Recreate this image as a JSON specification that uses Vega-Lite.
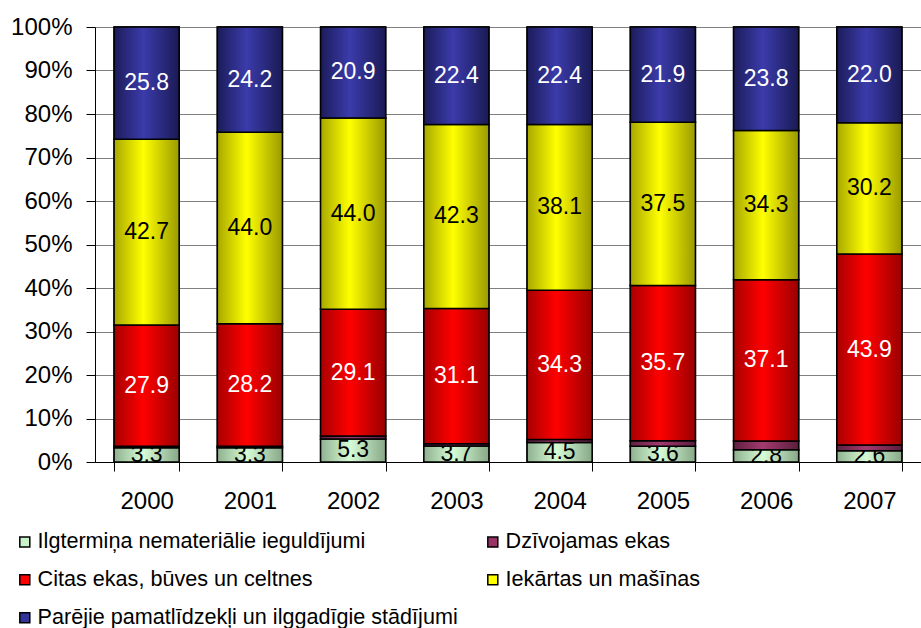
{
  "$schema": "https://vega.github.io/schema/vega-lite/v6.json",
  "autosize": {"type": "none"},
  "padding": {"left": 95, "top": 27, "right": 0, "bottom": 166},
  "width": 826,
  "height": 435,
  "config": {
    "font": "Liberation Sans",
    "view": {"stroke": null}
  },
  "data": {
    "values": [
      {"year": "2000", "series": "Ilgtermiņa nemateriālie ieguldījumi", "o": 1, "value": 3.3},
      {"year": "2000", "series": "Dzīvojamas ekas", "o": 2, "value": 0.3},
      {"year": "2000", "series": "Citas ekas, būves un celtnes", "o": 3, "value": 27.9},
      {"year": "2000", "series": "Iekārtas un mašīnas", "o": 4, "value": 42.7},
      {"year": "2000", "series": "Parējie pamatlīdzekļi un ilggadīgie stādījumi", "o": 5, "value": 25.8},
      {"year": "2001", "series": "Ilgtermiņa nemateriālie ieguldījumi", "o": 1, "value": 3.3},
      {"year": "2001", "series": "Dzīvojamas ekas", "o": 2, "value": 0.3},
      {"year": "2001", "series": "Citas ekas, būves un celtnes", "o": 3, "value": 28.2},
      {"year": "2001", "series": "Iekārtas un mašīnas", "o": 4, "value": 44.0},
      {"year": "2001", "series": "Parējie pamatlīdzekļi un ilggadīgie stādījumi", "o": 5, "value": 24.2},
      {"year": "2002", "series": "Ilgtermiņa nemateriālie ieguldījumi", "o": 1, "value": 5.3},
      {"year": "2002", "series": "Dzīvojamas ekas", "o": 2, "value": 0.7},
      {"year": "2002", "series": "Citas ekas, būves un celtnes", "o": 3, "value": 29.1},
      {"year": "2002", "series": "Iekārtas un mašīnas", "o": 4, "value": 44.0},
      {"year": "2002", "series": "Parējie pamatlīdzekļi un ilggadīgie stādījumi", "o": 5, "value": 20.9},
      {"year": "2003", "series": "Ilgtermiņa nemateriālie ieguldījumi", "o": 1, "value": 3.7},
      {"year": "2003", "series": "Dzīvojamas ekas", "o": 2, "value": 0.5},
      {"year": "2003", "series": "Citas ekas, būves un celtnes", "o": 3, "value": 31.1},
      {"year": "2003", "series": "Iekārtas un mašīnas", "o": 4, "value": 42.3},
      {"year": "2003", "series": "Parējie pamatlīdzekļi un ilggadīgie stādījumi", "o": 5, "value": 22.4},
      {"year": "2004", "series": "Ilgtermiņa nemateriālie ieguldījumi", "o": 1, "value": 4.5},
      {"year": "2004", "series": "Dzīvojamas ekas", "o": 2, "value": 0.7},
      {"year": "2004", "series": "Citas ekas, būves un celtnes", "o": 3, "value": 34.3},
      {"year": "2004", "series": "Iekārtas un mašīnas", "o": 4, "value": 38.1},
      {"year": "2004", "series": "Parējie pamatlīdzekļi un ilggadīgie stādījumi", "o": 5, "value": 22.4},
      {"year": "2005", "series": "Ilgtermiņa nemateriālie ieguldījumi", "o": 1, "value": 3.6},
      {"year": "2005", "series": "Dzīvojamas ekas", "o": 2, "value": 1.3},
      {"year": "2005", "series": "Citas ekas, būves un celtnes", "o": 3, "value": 35.7},
      {"year": "2005", "series": "Iekārtas un mašīnas", "o": 4, "value": 37.5},
      {"year": "2005", "series": "Parējie pamatlīdzekļi un ilggadīgie stādījumi", "o": 5, "value": 21.9},
      {"year": "2006", "series": "Ilgtermiņa nemateriālie ieguldījumi", "o": 1, "value": 2.8},
      {"year": "2006", "series": "Dzīvojamas ekas", "o": 2, "value": 2.0},
      {"year": "2006", "series": "Citas ekas, būves un celtnes", "o": 3, "value": 37.1},
      {"year": "2006", "series": "Iekārtas un mašīnas", "o": 4, "value": 34.3},
      {"year": "2006", "series": "Parējie pamatlīdzekļi un ilggadīgie stādījumi", "o": 5, "value": 23.8},
      {"year": "2007", "series": "Ilgtermiņa nemateriālie ieguldījumi", "o": 1, "value": 2.6},
      {"year": "2007", "series": "Dzīvojamas ekas", "o": 2, "value": 1.3},
      {"year": "2007", "series": "Citas ekas, būves un celtnes", "o": 3, "value": 43.9},
      {"year": "2007", "series": "Iekārtas un mašīnas", "o": 4, "value": 30.2},
      {"year": "2007", "series": "Parējie pamatlīdzekļi un ilggadīgie stādījumi", "o": 5, "value": 22.0}
    ]
  },
  "transform": [
    {"stack": "value", "groupby": ["year"], "sort": [{"field": "o", "order": "ascending"}], "as": ["y0", "y1"]},
    {"calculate": "(datum.y0 + datum.y1) / 2", "as": "ymid"}
  ],
  "encoding": {
    "x": {
      "field": "year", "type": "nominal", "title": null,
      "scale": {"paddingInner": 0.37, "paddingOuter": 0.185},
      "axis": {
        "labelAngle": 0, "labelFontSize": 24, "labelColor": "black", "labelPadding": 18,
        "tickBand": "extent", "tickSize": 9, "tickColor": "black", "domainColor": "black",
        "domainWidth": 1, "tickWidth": 1
      }
    }
  },
  "layer": [
    {
      "mark": {"type": "bar", "stroke": "black", "strokeWidth": 1.5},
      "encoding": {
        "y": {
          "field": "y0", "type": "quantitative", "title": null,
          "scale": {"domain": [0, 100], "nice": false},
          "axis": {
            "values": [0, 10, 20, 30, 40, 50, 60, 70, 80, 90, 100],
            "labelExpr": "datum.value + '%'", "labelFontSize": 24, "labelColor": "black",
            "labelPadding": 14, "tickSize": 9, "tickColor": "black", "domainColor": "black",
            "grid": true, "gridColor": "#808080", "gridWidth": 1, "gridOpacity": 1
          }
        },
        "y2": {"field": "y1"},
        "color": {
          "field": "series", "type": "nominal",
          "sort": ["Ilgtermiņa nemateriālie ieguldījumi", "Dzīvojamas ekas", "Citas ekas, būves un celtnes", "Iekārtas un mašīnas", "Parējie pamatlīdzekļi un ilggadīgie stādījumi"],
          "scale": {
            "domain": ["Ilgtermiņa nemateriālie ieguldījumi", "Dzīvojamas ekas", "Citas ekas, būves un celtnes", "Iekārtas un mašīnas", "Parējie pamatlīdzekļi un ilggadīgie stādījumi"],
            "range": ["#c8f2c8", "#993366", "#ff0000", "#ffff00", "#333399"]
          },
          "legend": {
            "title": null, "orient": "none", "legendX": -81, "legendY": 504,
            "direction": "horizontal", "columns": 2, "columnPadding": 24, "rowPadding": 15,
            "symbolType": "square", "symbolSize": 100, "symbolStrokeColor": "black", "symbolStrokeWidth": 1.5,
            "labelFontSize": 21.6, "labelColor": "black", "labelLimit": 600, "labelOffset": 2
          }
        }
      }
    },
    {
      "transform": [{"filter": "datum.o == 1"}],
      "mark": {"type": "bar", "stroke": "black", "strokeWidth": 1.5,
        "fill": {"gradient": "linear", "x1": 0, "x2": 1, "y1": 0, "y2": 0, "stops": [
          {"offset": 0, "color": "#8fb08f"}, {"offset": 0.45, "color": "#d6fcd6"}, {"offset": 1, "color": "#88a888"}]}},
      "encoding": {
        "y": {"field": "y0", "type": "quantitative"},
        "y2": {"field": "y1"}
      }
    },
    {
      "transform": [{"filter": "datum.o == 1"}],
      "mark": {"type": "text", "fontSize": 23, "baseline": "middle", "align": "center", "color": "black"},
      "encoding": {
        "y": {"field": "ymid", "type": "quantitative"},
        "text": {"field": "value", "type": "quantitative", "format": ".1f"}
      }
    },
    {
      "transform": [{"filter": "datum.o == 2"}],
      "mark": {"type": "bar", "stroke": "black", "strokeWidth": 1.5,
        "fill": {"gradient": "linear", "x1": 0, "x2": 1, "y1": 0, "y2": 0, "stops": [
          {"offset": 0, "color": "#5e2040"}, {"offset": 0.45, "color": "#a33a70"}, {"offset": 1, "color": "#5a1e3c"}]}},
      "encoding": {
        "y": {"field": "y0", "type": "quantitative"},
        "y2": {"field": "y1"}
      }
    },
    {
      "transform": [{"filter": "datum.o == 3"}],
      "mark": {"type": "bar", "stroke": "black", "strokeWidth": 1.5,
        "fill": {"gradient": "linear", "x1": 0, "x2": 1, "y1": 0, "y2": 0, "stops": [
          {"offset": 0, "color": "#a80000"}, {"offset": 0.45, "color": "#ff0000"}, {"offset": 1, "color": "#9a0000"}]}},
      "encoding": {
        "y": {"field": "y0", "type": "quantitative"},
        "y2": {"field": "y1"}
      }
    },
    {
      "transform": [{"filter": "datum.o == 4"}],
      "mark": {"type": "bar", "stroke": "black", "strokeWidth": 1.5,
        "fill": {"gradient": "linear", "x1": 0, "x2": 1, "y1": 0, "y2": 0, "stops": [
          {"offset": 0, "color": "#a8a800"}, {"offset": 0.45, "color": "#ffff00"}, {"offset": 1, "color": "#9a9a00"}]}},
      "encoding": {
        "y": {"field": "y0", "type": "quantitative"},
        "y2": {"field": "y1"}
      }
    },
    {
      "transform": [{"filter": "datum.o == 5"}],
      "mark": {"type": "bar", "stroke": "black", "strokeWidth": 1.5,
        "fill": {"gradient": "linear", "x1": 0, "x2": 1, "y1": 0, "y2": 0, "stops": [
          {"offset": 0, "color": "#1c1c5a"}, {"offset": 0.45, "color": "#3b3bab"}, {"offset": 1, "color": "#1a1a55"}]}},
      "encoding": {
        "y": {"field": "y0", "type": "quantitative"},
        "y2": {"field": "y1"}
      }
    },
    {
      "transform": [{"filter": "datum.o >= 3"}],
      "mark": {"type": "text", "fontSize": 23, "baseline": "middle", "align": "center"},
      "encoding": {
        "y": {"field": "ymid", "type": "quantitative"},
        "text": {"field": "value", "type": "quantitative", "format": ".1f"},
        "color": {
          "condition": {"test": "datum.o == 3 || datum.o == 5", "value": "white"},
          "value": "black"
        }
      }
    }
  ]
}
